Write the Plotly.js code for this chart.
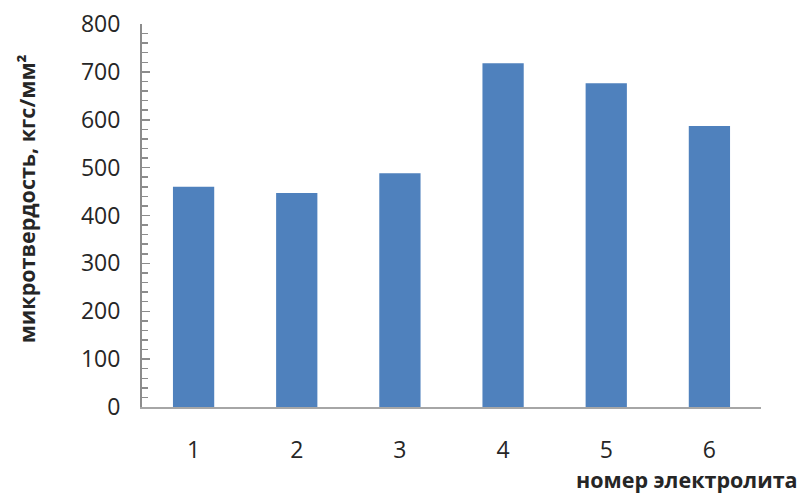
<!DOCTYPE html>
<html>
<head>
<meta charset="utf-8">
<script src="https://cdn.plot.ly/plotly-3.0.1.min.js"></script>
<style>
  html, body { margin: 0; padding: 0; background: #ffffff; }
  #chart { width: 802px; height: 495px; }
</style>
</head>
<body>
<div id="chart"></div>
<script>
// Electrolyte numbers and measured microhardness of the coatings
const electrolytes = ['1', '2', '3', '4', '5', '6'];
const microhardness = [460, 447, 488, 718, 676, 587];

const yTitle = 'микротвердость, кгс/мм²';
const xTitle = 'номер электролита';

const axisGray = '#8c8c8c';
const textColor = '#262626';
const fontFamily = '"Open Sans", "Liberation Sans", sans-serif';

const trace = {
  type: 'bar',
  x: electrolytes,
  y: microhardness,
  marker: { color: '#4f81bd', line: { width: 0 } },
  hoverinfo: 'x+y'
};

const layout = {
  width: 802,
  height: 495,
  margin: { l: 142, r: 41, t: 24, b: 88 },
  paper_bgcolor: '#ffffff',
  plot_bgcolor: '#ffffff',
  showlegend: false,
  bargap: 0.6,
  font: { family: fontFamily, size: 23, color: textColor },
  xaxis: {
    type: 'category',
    showline: true,
    linecolor: '#a6a6a6',
    linewidth: 1.5,
    ticks: '',
    showgrid: false,
    zeroline: false,
    ticklabelstandoff: 22,
    tickfont: { family: fontFamily, size: 23, color: textColor }
  },
  yaxis: {
    range: [0, 800],
    dtick: 100,
    showline: true,
    linecolor: axisGray,
    linewidth: 2,
    ticks: 'inside',
    ticklen: 8,
    tickwidth: 1.5,
    tickcolor: axisGray,
    minor: { dtick: 20, ticks: 'inside', ticklen: 6, tickwidth: 1.5, tickcolor: axisGray, showgrid: false },
    showgrid: false,
    zeroline: false,
    ticklabelstandoff: 15,
    tickfont: { family: fontFamily, size: 23, color: textColor }
  },
  annotations: [
    {
      text: '<b>' + yTitle + '</b>',
      xref: 'paper', yref: 'paper',
      x: -0.187, y: 0.543,
      xanchor: 'center', yanchor: 'middle',
      textangle: -90,
      showarrow: false,
      font: { family: fontFamily, size: 21.5, color: textColor }
    },
    {
      text: '<b>' + xTitle + '</b>',
      xref: 'paper', yref: 'paper',
      x: 1.063, y: -0.19,
      xanchor: 'right', yanchor: 'middle',
      showarrow: false,
      font: { family: fontFamily, size: 21.5, color: textColor }
    }
  ]
};

Plotly.newPlot('chart', [trace], layout, { displayModeBar: false, staticPlot: true });
</script>
</body>
</html>
